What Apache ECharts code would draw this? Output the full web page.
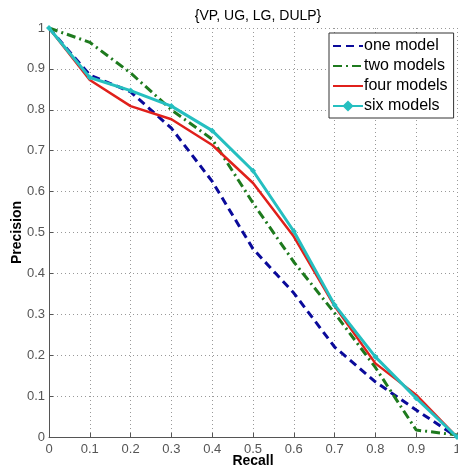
<!DOCTYPE html>
<html>
<head>
<meta charset="utf-8">
<script src="https://cdn.jsdelivr.net/npm/echarts@6/dist/echarts.min.js"></script>
<style>
  html, body { margin: 0; padding: 0; background: #fff; }
  #chart { width: 458px; height: 469px; }
</style>
</head>
<body>
<div id="chart"></div>
<script>
// recall values (x) shared by every curve
const recall = [0, 0.1, 0.2, 0.3, 0.4, 0.5, 0.6, 0.7, 0.8, 0.9, 1.0];
// precision per model count
const oneModel = [1, 0.885, 0.844, 0.755, 0.625, 0.46, 0.352, 0.22, 0.135, 0.066, 0.0];
const twoModels = [1, 0.965, 0.89, 0.8, 0.728, 0.572, 0.428, 0.303, 0.17, 0.017, 0.005];
const fourModels = [1, 0.873, 0.809, 0.777, 0.714, 0.621, 0.49, 0.32, 0.18, 0.103, 0.0];
const sixModels = [1, 0.879, 0.847, 0.809, 0.749, 0.651, 0.503, 0.323, 0.196, 0.095, 0.0];
const legendNames = ["one model", "two models", "four models", "six models"];

const font = "Arial, 'Liberation Sans', sans-serif";
const pair = (ys) => recall.map((x, i) => [x, ys[i]]);

// shared axis look, matlab style
function axisBase(name) {
  return {
    type: "value",
    min: 0,
    max: 1,
    interval: 0.1,
    name: name,
    nameLocation: "middle",
    nameMoveOverlap: false,
    nameTextStyle: { color: "#000", fontFamily: font, fontSize: 14, fontWeight: "bold" },
    axisLine: { show: true, lineStyle: { color: "#555", width: 1 } },
    axisTick: { show: true, inside: true, length: 4, lineStyle: { color: "#555" } },
    axisLabel: { color: "#555", fontFamily: font, fontSize: 13 },
    splitLine: { show: true, lineStyle: { color: "#999", type: [1, 3], width: 1 } },
  };
}

const chart = echarts.init(document.getElementById("chart"), null, { renderer: "canvas" });

const xAxis = axisBase("Recall");
xAxis.nameGap = 17;
xAxis.axisLabel.margin = 6;

const yAxis = axisBase("Precision");
yAxis.nameGap = 25;
yAxis.axisLabel.margin = 4;

chart.setOption({
  animation: false,
  title: {
    text: "{VP, UG, LG, DULP}",
    left: 253,
    textAlign: "center",
    top: 4,
    textStyle: { color: "#000", fontFamily: font, fontSize: 14, fontWeight: "normal" },
  },
  grid: { left: 49, right: 1, top: 28, bottom: 32, containLabel: false, outerBoundsMode: "none" },
  legend: {
    orient: "vertical",
    left: 329,
    top: 33,
    width: 123,
    padding: [5, 6, 4, 3],
    itemGap: 4,
    itemWidth: 30,
    itemHeight: 14,
    backgroundColor: "#fff",
    borderColor: "#333",
    borderWidth: 1,
    borderRadius: 0,
    textStyle: { color: "#000", fontFamily: font, fontSize: 16, padding: [0, 0, 0, -4] },
    // hide the symbol on the first three icons, the lines keep their dash style
    data: legendNames.map((n, i) => (i < 3 ? { name: n, itemStyle: { opacity: 0 } } : { name: n })),
  },
  xAxis: xAxis,
  yAxis: yAxis,
  series: [
    {
      name: legendNames[0],
      type: "line",
      data: pair(oneModel),
      symbol: "none",
      lineStyle: { color: "#0a0a9a", width: 3, type: [8, 5] },
      itemStyle: { color: "#0a0a9a" },
    },
    {
      name: legendNames[1],
      type: "line",
      data: pair(twoModels),
      symbol: "none",
      lineStyle: { color: "#1e7a1e", width: 3, type: [9, 4, 2, 4] },
      itemStyle: { color: "#1e7a1e" },
    },
    {
      name: legendNames[2],
      type: "line",
      data: pair(fourModels),
      symbol: "none",
      lineStyle: { color: "#e0201b", width: 2.5 },
      itemStyle: { color: "#e0201b" },
    },
    {
      name: legendNames[3],
      type: "line",
      data: pair(sixModels),
      symbol: "diamond",
      symbolSize: 6,
      lineStyle: { color: "#25bfc0", width: 3 },
      itemStyle: { color: "#25bfc0" },
    },
  ],
});
</script>
</body>
</html>
